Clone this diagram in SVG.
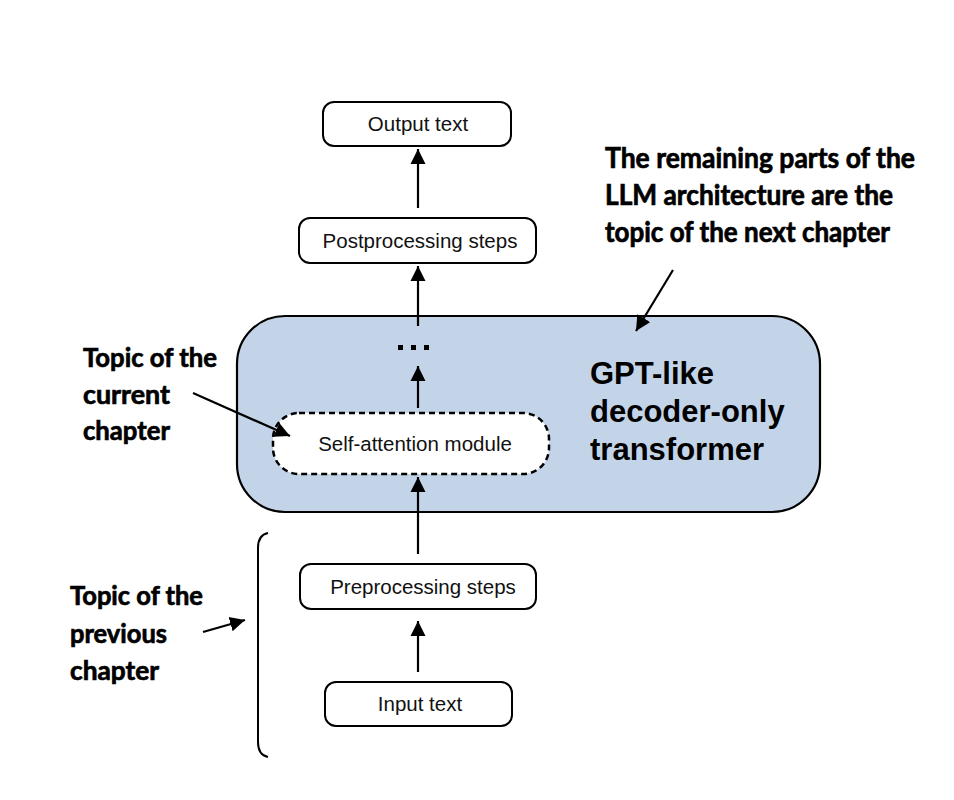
<svg xmlns="http://www.w3.org/2000/svg" width="954" height="800" viewBox="0 0 954 800">
<defs>
<marker id="ah" markerUnits="userSpaceOnUse" markerWidth="16" markerHeight="16" viewBox="0 0 16 16" refX="15" refY="8" orient="auto">
<path d="M0,0.5 L15,8 L0,15.5 Z" fill="#000"/>
</marker>
<style>
.box{fill:#fff;stroke:#000;stroke-width:2}
.nt{font-family:"Liberation Sans",Arial,Helvetica,sans-serif;font-size:20.5px;fill:#111;text-anchor:middle}
.lbl{font-family:Lato,"Open Sans",sans-serif;font-weight:700;fill:#000;stroke:#000;stroke-width:0.7}
.gpt{font-family:"Liberation Sans",Arial,Helvetica,sans-serif;font-weight:700;font-size:31px;fill:#000}
.con{stroke:#000;stroke-width:2.2;fill:none;marker-end:url(#ah)}
</style>
</defs>
<rect width="954" height="800" fill="#fff"/>

<g id="transformer">
<rect x="237" y="316" width="583" height="196" rx="48" fill="#c3d4e8" stroke="#000" stroke-width="2.2"/>
<text class="gpt" x="590" y="384">GPT-like</text>
<text class="gpt" x="590" y="422">decoder-only</text>
<text class="gpt" x="590" y="460">transformer</text>
</g>

<g id="ellipsis">
<rect x="398" y="345" width="5" height="5" fill="#000"/>
<rect x="411" y="345" width="5" height="5" fill="#000"/>
<rect x="424" y="345" width="5" height="5" fill="#000"/>
</g>

<g id="output">
<rect class="box" x="323" y="102" width="188" height="44" rx="11"/>
<text class="nt" x="418" y="131">Output text</text>
</g>

<g id="postprocessing">
<rect class="box" x="299" y="218" width="237" height="45" rx="11"/>
<text class="nt" x="420" y="248">Postprocessing steps</text>
</g>

<g id="selfattention">
<rect x="273" y="413" width="276" height="61" rx="26" fill="#fff" stroke="#000" stroke-width="2.5" stroke-dasharray="6 4"/>
<text class="nt" x="415" y="451">Self-attention module</text>
</g>

<g id="preprocessing">
<rect class="box" x="300" y="564" width="236" height="45" rx="11"/>
<text class="nt" x="423" y="594">Preprocessing steps</text>
</g>

<g id="input">
<rect class="box" x="325" y="682" width="187" height="44" rx="11"/>
<text class="nt" x="420" y="711">Input text</text>
</g>

<g id="label-next">
<text class="lbl" font-size="28" x="605" y="168" textLength="310" lengthAdjust="spacingAndGlyphs">The remaining parts of the</text>
<text class="lbl" font-size="28" x="605" y="205" textLength="288" lengthAdjust="spacingAndGlyphs">LLM architecture are the</text>
<text class="lbl" font-size="28" x="605" y="242" textLength="285" lengthAdjust="spacingAndGlyphs">topic of the next chapter</text>
</g>

<g id="label-current">
<text class="lbl" font-size="27" x="83" y="367" textLength="134" lengthAdjust="spacingAndGlyphs">Topic of the</text>
<text class="lbl" font-size="27" x="83" y="404" textLength="87" lengthAdjust="spacingAndGlyphs">current</text>
<text class="lbl" font-size="27" x="83" y="440" textLength="87" lengthAdjust="spacingAndGlyphs">chapter</text>
</g>

<g id="label-previous">
<text class="lbl" font-size="27" x="70" y="605" textLength="133" lengthAdjust="spacingAndGlyphs">Topic of the</text>
<text class="lbl" font-size="27" x="70" y="643" textLength="97" lengthAdjust="spacingAndGlyphs">previous</text>
<text class="lbl" font-size="27" x="70" y="680" textLength="89" lengthAdjust="spacingAndGlyphs">chapter</text>
</g>

<g id="bracket">
<path d="M268,533 Q258,535 258,548 L258,742 Q258,755 268,757" fill="none" stroke="#000" stroke-width="2"/>
</g>

<g id="connectors">
<line class="con" x1="418" y1="672" x2="418" y2="621"/>
<line class="con" x1="418" y1="554" x2="418" y2="477"/>
<line class="con" x1="418" y1="408" x2="418" y2="366"/>
<line class="con" x1="418" y1="326" x2="418" y2="266"/>
<line class="con" x1="418" y1="208" x2="418" y2="149"/>
<line class="con" x1="193" y1="393" x2="290" y2="436"/>
<line class="con" x1="673" y1="270" x2="636" y2="331"/>
<line class="con" x1="203" y1="632" x2="245" y2="620"/>
</g>
</svg>
